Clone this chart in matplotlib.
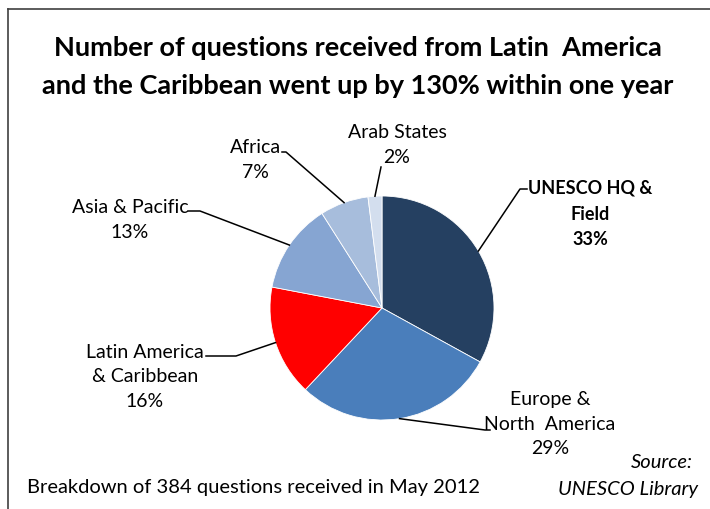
import matplotlib.pyplot as plt
import numpy as np
from matplotlib.lines import Line2D

# data
regions = ["UNESCO HQ &\nField", "Europe &\nNorth  America", "Latin America\n& Caribbean",
           "Asia & Pacific", "Africa", "Arab States"]
shares = [33, 29, 16, 13, 7, 2]
colors = ["#254061", "#4A7EBB", "#FF0000", "#86A5D2", "#A7BDDC", "#D3DEEE"]

W, H = 710, 510
plt.rcParams['font.family'] = ['Lato', 'DejaVu Sans']

fig = plt.figure(figsize=(W / 100, H / 100), dpi=100)

def fx(x):
    return x / W

def fy(y):
    return 1 - y / H

# frame (runs off the right and bottom edge)
fig.add_artist(Line2D([fx(8), fx(8)], [fy(10), fy(515)], color="#404040", lw=1.2))
fig.add_artist(Line2D([fx(8), fx(715)], [fy(10), fy(10)], color="#404040", lw=1.2))

fig.text(fx(358), fy(48), "Number of questions received from Latin  America",
         ha="center", va="center", fontsize=19.5, fontweight="bold")
fig.text(fx(358), fy(86), "and the Caribbean went up by 130% within one year",
         ha="center", va="center", fontsize=19.5, fontweight="bold")

cx, cy, r = 382, 309, 112
ax = fig.add_axes([fx(cx - r), fy(cy + r), 2 * r / W, 2 * r / H])
wedges, _ = ax.pie(shares, colors=colors, startangle=90, counterclock=False,
                   wedgeprops=dict(edgecolor="white", linewidth=0.6))
ax.set_xlim(-1, 1)
ax.set_ylim(-1, 1)
ax.set_aspect("equal")

# label text position, elbow point, end of horizontal stub
labels = [
    dict(txt=(590, 214), elbow=(520, 190), stub=(527, 190), bold=True),
    dict(txt=(550, 424), elbow=(485, 431), stub=(490, 431), bold=False),
    dict(txt=(145, 377), elbow=(236, 357), stub=(206, 357), bold=False),
    dict(txt=(130, 220), elbow=(200, 212), stub=(188, 212), bold=False),
    dict(txt=(255, 160), elbow=(286, 153), stub=(282, 153), bold=False),
    dict(txt=(397, 145), elbow=(381, 168), stub=(381, 168), bold=False),
]

to_px = ax.transData
for w, name, val, lab in zip(wedges, regions, shares, labels):
    mid = np.deg2rad((w.theta1 + w.theta2) / 2)
    ex, ey = to_px.transform((np.cos(mid), np.sin(mid)))
    ey = H - ey
    xs = [fx(ex), fx(lab["elbow"][0]), fx(lab["stub"][0])]
    ys = [fy(ey), fy(lab["elbow"][1]), fy(lab["stub"][1])]
    fig.add_artist(Line2D(xs, ys, color="black", lw=1.1))
    if lab["bold"]:
        fig.text(fx(lab["txt"][0]), fy(lab["txt"][1]), f"{name}\n{val}%",
                 ha="center", va="center", fontsize=13, linespacing=1.62,
                 fontweight="bold")
    else:
        fig.text(fx(lab["txt"][0]), fy(lab["txt"][1]), f"{name}\n{val}%",
                 ha="center", va="center", fontsize=14, linespacing=1.52)

fig.text(fx(27), fy(488), "Breakdown of 384 questions received in May 2012",
         ha="left", va="center", fontsize=14.5)
fig.text(fx(693), fy(463), "Source:", ha="right", va="center", fontsize=14.5, style="italic")
fig.text(fx(698), fy(490), "UNESCO Library", ha="right", va="center", fontsize=14.5, style="italic")

fig.savefig("out.png", dpi=100)
